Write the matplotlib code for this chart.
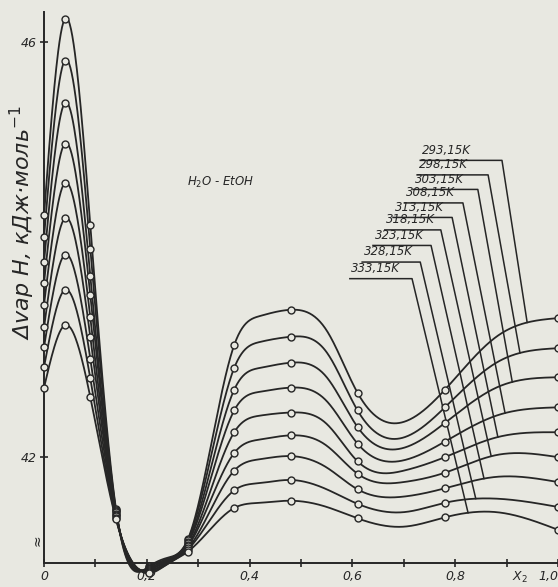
#!/usr/bin/env python3
"""
Enthalpy of vaporization of H2O - EtOH mixtures vs. composition, 293-333 K
"""

import numpy as np
import matplotlib
matplotlib.use("Agg")
import matplotlib.pyplot as plt

# mole fraction of ethanol along each curve
x2 = [0.0, 0.04, 0.09, 0.14, 0.205, 0.24, 0.28, 0.37, 0.42,
      0.48, 0.55, 0.61, 0.70, 0.78, 0.88, 1.0]
# which of those carry an open-circle marker (measured points)
marked = [0.0, 0.04, 0.09, 0.14, 0.205, 0.28, 0.37, 0.48, 0.61, 0.78, 1.0]

# dvapH, kJ/mol, one list per temperature
dH_293 = [44.33, 46.22, 44.24, 41.50, 40.95, 41.03, 41.21, 43.08, 43.36,
          43.42, 43.22, 42.62, 42.34, 42.65, 43.16, 43.34]
dH_298 = [44.12, 45.82, 44.01, 41.49, 40.94, 41.02, 41.20, 42.86, 43.11,
          43.16, 43.01, 42.45, 42.19, 42.48, 42.91, 43.05]
dH_303 = [43.88, 45.41, 43.75, 41.48, 40.93, 41.01, 41.18, 42.65, 42.86,
          42.91, 42.77, 42.29, 42.09, 42.33, 42.67, 42.77]
dH_308 = [43.68, 45.02, 43.56, 41.47, 40.92, 41.00, 41.17, 42.45, 42.63,
          42.67, 42.54, 42.13, 41.97, 42.15, 42.40, 42.48]
dH_313 = [43.47, 44.64, 43.35, 41.45, 40.92, 40.99, 41.15, 42.24, 42.40,
          42.43, 42.32, 41.96, 41.87, 42.00, 42.19, 42.24]
dH_318 = [43.25, 44.30, 43.16, 41.44, 40.91, 40.98, 41.14, 42.04, 42.17,
          42.21, 42.11, 41.84, 41.76, 41.85, 42.02, 42.00]
dH_323 = [43.06, 43.95, 42.95, 41.43, 40.90, 40.98, 41.12, 41.87, 41.98,
          42.01, 41.90, 41.69, 41.62, 41.70, 41.81, 41.76]
dH_328 = [42.87, 43.61, 42.76, 41.41, 40.89, 40.97, 41.11, 41.68, 41.75,
          41.78, 41.69, 41.55, 41.47, 41.56, 41.60, 41.52]
dH_333 = [42.67, 43.27, 42.58, 41.40, 40.88, 40.97, 41.09, 41.51, 41.56,
          41.58, 41.52, 41.41, 41.33, 41.42, 41.47, 41.30]

series = [dH_293, dH_298, dH_303, dH_308, dH_313, dH_318, dH_323, dH_328, dH_333]
temp_labels = ["293,15K", "298,15K", "303,15K", "308,15K", "313,15K",
               "318,15K", "323,15K", "328,15K", "333,15K"]

xtick_vals = [0.0, 0.2, 0.4, 0.6, 0.8, 1.0]
xtick_text = ["0", "0,2", "0,4", "0,6", "0,8", "1,0"]

# label / leader layout (data units)
lab_left = [0.732, 0.726, 0.718, 0.702, 0.679, 0.663, 0.640, 0.619, 0.595]
lab_y = [44.86, 44.72, 44.58, 44.45, 44.31, 44.19, 44.04, 43.88, 43.72]
corner_x = [0.891, 0.864, 0.844, 0.815, 0.794, 0.772, 0.753, 0.732, 0.716]
end_x = [0.940, 0.926, 0.911, 0.897, 0.883, 0.870, 0.856, 0.840, 0.825]

INK = "#262626"
PAPER = "#e8e8e1"


def spline(x, y, xs):
    """natural cubic spline, used only to draw the smooth curve"""
    x = np.asarray(x, float)
    y = np.asarray(y, float)
    n = len(x)
    h = np.diff(x)
    A = np.zeros((n, n))
    r = np.zeros(n)
    A[0, 0] = A[-1, -1] = 1.0
    for i in range(1, n - 1):
        A[i, i - 1] = h[i - 1]
        A[i, i] = 2 * (h[i - 1] + h[i])
        A[i, i + 1] = h[i]
        r[i] = 3 * ((y[i + 1] - y[i]) / h[i] - (y[i] - y[i - 1]) / h[i - 1])
    c = np.linalg.solve(A, r)
    b = (y[1:] - y[:-1]) / h - h * (2 * c[:-1] + c[1:]) / 3
    d = (c[1:] - c[:-1]) / (3 * h)
    xs = np.asarray(xs, float)
    k = np.clip(np.searchsorted(x, xs) - 1, 0, n - 2)
    t = xs - x[k]
    return y[k] + b[k] * t + c[k] * t ** 2 + d[k] * t ** 3


def main():
    fig = plt.figure(figsize=(5.58, 5.87), dpi=100, facecolor=PAPER)
    ax = fig.add_axes([0.0789, 0.0409, 0.9211, 0.9387])
    ax.set_facecolor(PAPER)

    idx = [x2.index(v) for v in marked]
    xs = np.linspace(0, 1, 800)
    for vals in series:
        ax.plot(xs, spline(x2, vals, xs), color=INK, lw=1.3, clip_on=False, zorder=2)
        ax.plot(marked, [vals[i] for i in idx], "o", ms=5, mfc=PAPER, mec=INK,
                mew=1.0, clip_on=False, zorder=3)

    # temperature labels with leader lines
    for i, lab in enumerate(temp_labels):
        ye = float(spline(x2, series[i], [end_x[i]])[0])
        ax.plot([lab_left[i], corner_x[i], end_x[i]], [lab_y[i], lab_y[i], ye],
                color=INK, lw=1.1, zorder=2)
        ax.text(lab_left[i] + 0.003, lab_y[i] + 0.035, lab, fontsize=8.5,
                fontstyle="italic", color=INK, ha="left", va="bottom")

    ax.text(0.344, 44.65, "H$_2$O - EtOH", fontsize=8.5, fontstyle="italic",
            color=INK, ha="center", va="center")

    ax.set_xlim(0, 1.0)
    ax.set_ylim(40.98, 46.29)

    for s in ["top", "right"]:
        ax.spines[s].set_visible(False)
    for s in ["left", "bottom"]:
        ax.spines[s].set_color(INK)
        ax.spines[s].set_linewidth(1.4)

    ax.set_xticks(np.arange(0.1, 1.0, 0.1), minor=True)
    ax.set_xticks(xtick_vals)
    ax.set_xticklabels(xtick_text, fontsize=9, fontstyle="italic", color=INK)
    ax.get_xticklabels()[-1].set_ha("right")
    ax.set_yticks([42, 46])
    ax.set_yticklabels(["42", "46"], fontsize=9, fontstyle="italic", color=INK)
    ax.tick_params(which="both", direction="inout", length=6, width=1.2,
                   color=INK, pad=2)

    ax.text(0.925, -0.012, "X$_2$", transform=ax.transAxes, fontsize=9,
            fontstyle="italic", color=INK, ha="center", va="top")
    ax.text(-0.012, 41.2, "\u2248", fontsize=10, color=INK, ha="center",
            va="center", rotation=90)

    fig.text(22 / 558, 1 - 223 / 587,
             "\u0394vap H, \u043a\u0414\u0436\u00b7\u043c\u043e\u043b\u044c$^{-1}$",
             fontsize=16, fontstyle="italic", color=INK, rotation=90,
             ha="center", va="center")

    fig.savefig("out.png", dpi=100, facecolor=PAPER)


if __name__ == "__main__":
    main()
